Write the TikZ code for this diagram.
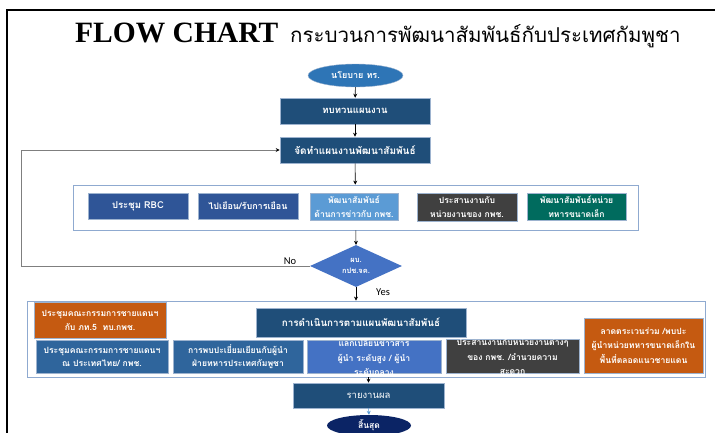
\documentclass[tikz,border=0pt]{standalone}
\usepackage{fontspec}
\setmainfont{Loma}[Script=Thai]
\newfontfamily\thaifont[Script=Thai]{Loma}
\newfontfamily\latinsans{Carlito}
\newfontfamily\titlefont{Liberation Serif}
\usetikzlibrary{shapes.geometric,arrows.meta}
\definecolor{darkblue}{HTML}{1F4E79}
\definecolor{midblue}{HTML}{2E75B6}
\definecolor{rbcblue}{HTML}{2F5597}
\definecolor{lightblue}{HTML}{5B9BD5}
\definecolor{darkgray}{HTML}{404040}
\definecolor{teal}{HTML}{006B5E}
\definecolor{diablue}{HTML}{4472C4}
\definecolor{orange}{HTML}{C55A11}
\definecolor{steelblue}{HTML}{2F659C}
\definecolor{navy}{HTML}{0B2465}
\definecolor{boxedge}{HTML}{9DB3CF}
\definecolor{grpedge}{HTML}{8FAAD0}
\definecolor{fbline}{HTML}{7F7F7F}
\tikzset{
  box/.style={rectangle, draw=boxedge, line width=0.6pt, text=white,
    font=\bfseries\fontsize{9.5}{13}\selectfont, align=center, inner sep=1pt},
  grp/.style={rectangle, draw=grpedge, line width=0.8pt, fill=white},
  arr/.style={-{Stealth[length=4pt,width=4pt]}, line width=0.6pt, draw=black},
  small/.style={font=\bfseries\fontsize{8.6}{14}\selectfont},
  txt/.style={text=white, font=\bfseries\fontsize{8.6}{14.5}\selectfont, align=center, inner sep=0pt}
}
\begin{document}
\begin{tikzpicture}[x=1pt,y=-1pt]
\useasboundingbox (0,0) rectangle (715,432);
% frame
\draw[line width=2pt] (7,433) -- (7,10) -- (716,10);
% title
\node[anchor=base west, inner sep=0pt, font=\titlefont\bfseries\fontsize{29.5}{31}\selectfont] (t1) at (75,42) {FLOW CHART};
\node[anchor=base west, inner sep=0pt, font=\thaifont\fontsize{20.5}{24}\selectfont] (t2) at (290,42) {กระบวนการพัฒนาสัมพันธ์กับประเทศกัมพูชา};
% top chain
\node[ellipse, fill=midblue, draw=boxedge, line width=0.4pt, minimum width=95pt, minimum height=23pt, inner sep=0pt, text=white, font=\bfseries\fontsize{9}{10}\selectfont] (start) at (355.5,75.5) {นโยบาย ทร.};
\node[box, fill=darkblue, minimum width=150pt, minimum height=26pt] (review) at (355,111) {ทบทวนแผนงาน};
\node[box, fill=darkblue, minimum width=150pt, minimum height=26pt, font=\bfseries\fontsize{10}{13}\selectfont] (plan) at (355,150) {จัดทำแผนงานพัฒนาสัมพันธ์};
% group 1
\node[grp, minimum width=565pt, minimum height=45pt] (grp1) at (355.5,207.5) {};
\node[box, fill=rbcblue, minimum width=100pt, minimum height=26pt] (g1a) at (138,206) {ประชุม RBC};
\node[box, fill=rbcblue, minimum width=100pt, minimum height=26pt, font=\bfseries\fontsize{9}{13}\selectfont] (g1b) at (248,206) {ไปเยือน/รับการเยือน};
\node[box, small, fill=lightblue, minimum width=88pt, minimum height=27pt] (g1c) at (354,206.5) {พัฒนาสัมพันธ์\\ด้านการข่าวกับ กพช.};
\node[box, small, fill=darkgray, minimum width=100pt, minimum height=28pt] (g1d) at (467,207) {ประสานงานกับ\\หน่วยงานของ กพช.};
\node[box, small, fill=teal, minimum width=99pt, minimum height=27pt] (g1e) at (576.5,206.5) {พัฒนาสัมพันธ์หน่วย\\ทหารขนาดเล็ก};
% decision
\node[diamond, aspect=2.2, fill=diablue, minimum width=92pt, minimum height=42pt, inner sep=0pt, text=white, align=center, font=\bfseries\fontsize{7.5}{11}\selectfont] (dia) at (356,266) {ผบ.\\กปช.จค.};
\node[font=\latinsans\fontsize{10.5}{12}\selectfont, inner sep=0pt] (no) at (290,261) {No};
\node[font=\latinsans\fontsize{10.5}{12}\selectfont, inner sep=0pt] (yes) at (383,292) {Yes};
% group 2
\node[grp, minimum width=678pt, minimum height=76pt] (grp2) at (366,339) {};
\node[box, small, fill=orange, minimum width=132pt, minimum height=36pt] (o1) at (100,320) {ประชุมคณะกรรมการชายแดนฯ\\กับ ภท.5~~ทบ.กพช.};
\node[box, fill=darkblue, minimum width=210pt, minimum height=29pt, font=\bfseries\fontsize{9.8}{12}\selectfont] (exec) at (361,322.5) {การดำเนินการตามแผนพัฒนาสัมพันธ์};
\node[box, fill=steelblue, minimum width=132pt, minimum height=33pt, font=\bfseries\fontsize{8.6}{13}\selectfont] (b1) at (102,357) {ประชุมคณะกรรมการชายแดนฯ\\ณ ประเทศไทย/ กพช.};
\node[box, fill=steelblue, minimum width=130pt, minimum height=33pt, font=\bfseries\fontsize{8.6}{13}\selectfont] (b2) at (238,357) {การพบปะเยี่ยมเยียนกับผู้นำ\\ฝ่ายทหารประเทศกัมพูชา};
\node[box, fill=diablue, minimum width=134pt, minimum height=33pt] (b3) at (374,357) {};
\begin{scope}
\clip (b3.south west) rectangle (b3.north east);
\node[txt] (b3t) at (b3.center) {แลกเปลี่ยนข่าวสาร\\ผู้นำ ระดับสูง / ผู้นำ\\ระดับกลาง};
\end{scope}
\node[box, fill=darkgray, minimum width=133pt, minimum height=34pt] (b4) at (512.5,356) {};
\begin{scope}
\clip (b4.south west) rectangle (b4.north east);
\node[txt, anchor=north] (b4t) at ([yshift=0pt]b4.north) {ประสานงานกับหน่วยงานต่างๆ\\ของ กพช. /อำนวยความ\\สะดวก};
\end{scope}
\node[box, fill=orange, minimum width=119pt, minimum height=55pt, font=\bfseries\fontsize{8.6}{14.5}\selectfont] (o2) at (643.5,345.5) {ลาดตระเวนร่วม /พบปะ\\ผู้นำหน่วยทหารขนาดเล็กใน\\พื้นที่ตลอดแนวชายแดน};
% bottom
\node[box, fill=darkblue, minimum width=151pt, minimum height=25pt, font=\fontsize{9.5}{12}\selectfont] (report) at (368.5,395.5) {รายงานผล};
\node[ellipse, fill=navy, minimum width=84pt, minimum height=21pt, inner sep=0pt, text=white, font=\bfseries\fontsize{8.5}{10}\selectfont] (end) at (369,425.5) {สิ้นสุด};
% connectors
\draw[arr] (start) -- (review);
\draw[arr] (review) -- (plan);
\draw[arr] (plan) -- (grp1);
\draw[arr] (grp1) -- (dia.north);
\draw[arr] (dia.south) -- (dia.south |- grp2.north);
\coordinate (fbl) at (21,266);
\draw[fbline, line width=0.7pt, -{Stealth[length=4pt,width=4pt,color=black]}] (dia.west) -- (fbl) |- (plan.west);
\draw[arr] (report.north |- grp2.south) -- (report.north);
\draw[-{Stealth[length=4pt,width=4pt]}, line width=0.6pt, draw=lightblue] (report.south) -- (end.north);
\end{tikzpicture}
\end{document}
